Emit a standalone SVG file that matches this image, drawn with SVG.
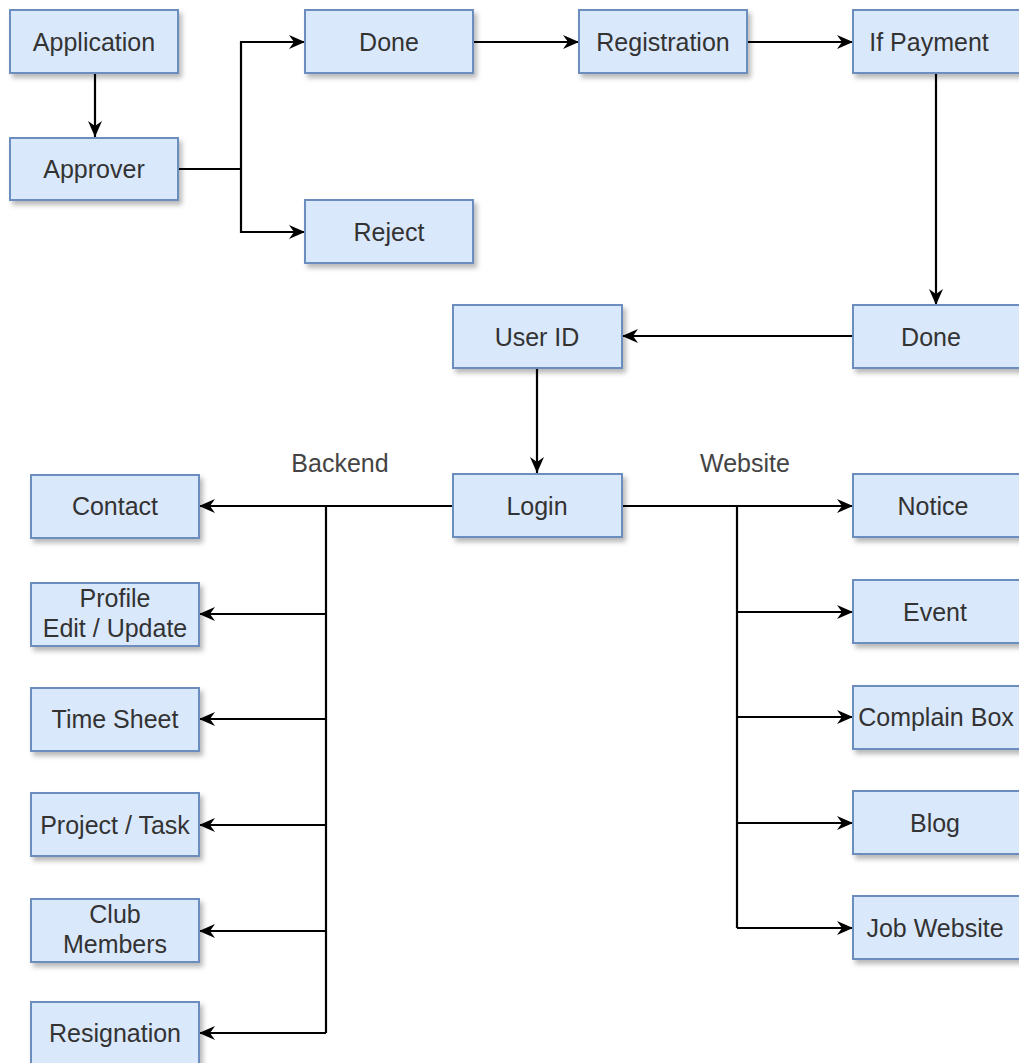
<svg xmlns="http://www.w3.org/2000/svg" width="1019" height="1063" viewBox="0 0 1019 1063">
<defs>
<filter id="sh" x="-10%" y="-10%" width="130%" height="140%">
<feDropShadow dx="3" dy="4" stdDeviation="2.5" flood-color="#000" flood-opacity="0.28"/>
</filter>
<marker id="arr" markerUnits="userSpaceOnUse" markerWidth="18" markerHeight="16" refX="16" refY="8" orient="auto">
<path d="M0,1 L16,8 L0,15 L5,8 z" fill="#000"/>
</marker>
<style>
.b rect{fill:#dae8fc;stroke:#6c8ebf;stroke-width:2;filter:url(#sh)}
.b text,.lbl{font-family:"Liberation Sans",Arial,sans-serif;font-size:25px;fill:#333;text-anchor:middle}
.lbl{fill:#444}
.c path{fill:none;stroke:#000;stroke-width:2.2}
.c .a{marker-end:url(#arr)}
</style>
</defs>
<rect width="1019" height="1063" fill="#fff"/>
<g class="c" id="connectors">
<path class="a" d="M95,73 V137"/>
<path d="M178,169 H241"/>
<path class="a" d="M241,169 V42 H305"/>
<path class="a" d="M241,169 V232 H305"/>
<path class="a" d="M473,42 H579"/>
<path class="a" d="M747,42 H853"/>
<path class="a" d="M936,73 V305"/>
<path class="a" d="M853,336 H622"/>
<path class="a" d="M537,368 V473"/>
<path class="a" d="M453,506 H199"/>
<path d="M326,506 V1033"/>
<path class="a" d="M326,614 H199"/>
<path class="a" d="M326,719 H199"/>
<path class="a" d="M326,825 H199"/>
<path class="a" d="M326,931 H199"/>
<path class="a" d="M326,1033 H199"/>
<path class="a" d="M622,506 H853"/>
<path d="M737,506 V928"/>
<path class="a" d="M737,612 H853"/>
<path class="a" d="M737,717 H853"/>
<path class="a" d="M737,823 H853"/>
<path class="a" d="M737,928 H853"/>
</g>
<text class="lbl" x="340" y="472">Backend</text>
<text class="lbl" x="745" y="472">Website</text>
<g class="b" id="application"><rect x="10" y="10" width="168" height="63"/><text x="94" y="51">Application</text></g>
<g class="b" id="approver"><rect x="10" y="138" width="168" height="62"/><text x="94" y="178">Approver</text></g>
<g class="b" id="done1"><rect x="305" y="10" width="168" height="63"/><text x="389" y="51">Done</text></g>
<g class="b" id="reject"><rect x="305" y="200" width="168" height="63"/><text x="389" y="241">Reject</text></g>
<g class="b" id="registration"><rect x="579" y="10" width="168" height="63"/><text x="663" y="51">Registration</text></g>
<g class="b" id="ifpayment"><rect x="853" y="10" width="168" height="63"/><text x="929" y="51">If Payment</text></g>
<g class="b" id="done2"><rect x="853" y="305" width="168" height="63"/><text x="931" y="346">Done</text></g>
<g class="b" id="userid"><rect x="453" y="305" width="169" height="63"/><text x="537" y="346">User ID</text></g>
<g class="b" id="login"><rect x="453" y="474" width="169" height="63"/><text x="537" y="515">Login</text></g>
<g class="b" id="contact"><rect x="31" y="475" width="168" height="63"/><text x="115" y="515">Contact</text></g>
<g class="b" id="profile"><rect x="31" y="583" width="168" height="63"/><text x="115" y="607">Profile</text><text x="115" y="637">Edit / Update</text></g>
<g class="b" id="timesheet"><rect x="31" y="688" width="168" height="63"/><text x="115" y="728">Time Sheet</text></g>
<g class="b" id="project"><rect x="31" y="793" width="168" height="63"/><text x="115" y="834">Project / Task</text></g>
<g class="b" id="club"><rect x="31" y="899" width="168" height="63"/><text x="115" y="923">Club</text><text x="115" y="953">Members</text></g>
<g class="b" id="resignation"><rect x="31" y="1002" width="168" height="63"/><text x="115" y="1042">Resignation</text></g>
<g class="b" id="notice"><rect x="853" y="474" width="168" height="63"/><text x="933" y="515">Notice</text></g>
<g class="b" id="event"><rect x="853" y="580" width="168" height="63"/><text x="935" y="621">Event</text></g>
<g class="b" id="complain"><rect x="853" y="686" width="168" height="63"/><text x="936" y="726">Complain Box</text></g>
<g class="b" id="blog"><rect x="853" y="791" width="168" height="63"/><text x="935" y="832">Blog</text></g>
<g class="b" id="job"><rect x="853" y="896" width="168" height="63"/><text x="935" y="937">Job Website</text></g>
</svg>
